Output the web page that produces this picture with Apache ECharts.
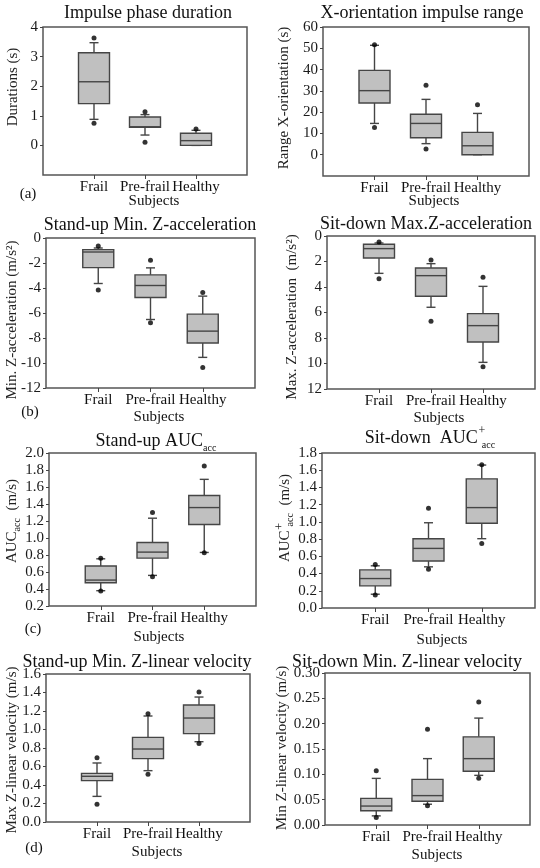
<!DOCTYPE html>
<html>
<head>
<meta charset="utf-8">
<script src="https://cdn.jsdelivr.net/npm/echarts@6/dist/echarts.min.js"></script>
<style>html,body{margin:0;padding:0;background:#fff;}#chart{width:540px;height:868px;}</style>
</head>
<body>
<div id="chart"></div>
<script>
const categories = ['Frail', 'Pre-frail', 'Healthy'];

// box stats per category: [lower whisker, Q1, median, Q3, upper whisker]
const durationBox = [[0.88, 1.41, 2.15, 3.13, 3.47], [0.35, 0.61, 0.63, 0.96, 1.04], [0.00, 0.00, 0.16, 0.41, 0.51]];
const durationOut = [[3.63, 0.75], [1.14, 0.11], [0.55]];

const rangeBox = [[14.7, 24.3, 30.1, 39.6, 51.4], [5.2, 8.0, 14.7, 19.0, 26.0], [0, 0, 4.2, 10.5, 19.4]];
const rangeOut = [[51.7, 12.8], [32.6, 2.7], [23.5]];

const standMinAccBox = [[-3.64, -2.37, -1.12, -0.93, -0.8], [-6.52, -4.76, -3.80, -2.95, -2.39], [-9.55, -8.40, -7.45, -6.09, -4.65]];
const standMinAccOut = [[-0.64, -4.15], [-1.78, -6.78], [-4.36, -10.35]];

const sitMaxAccBox = [[0.55, 0.65, 0.99, 1.73, 2.93], [2.17, 2.51, 3.11, 4.73, 5.59], [3.95, 6.09, 7.03, 8.31, 9.91]];
const sitMaxAccOut = [[0.47, 3.35], [1.88, 6.69], [3.24, 10.25]];

const standAucBox = [[0.38, 0.474, 0.505, 0.67, 0.755], [0.56, 0.763, 0.834, 0.947, 1.233], [0.83, 1.158, 1.358, 1.50, 1.69]];
const standAucOut = [[0.763, 0.376], [1.30, 0.544], [1.847, 0.826]];

const sitAucBox = [[0.16, 0.257, 0.342, 0.443, 0.49], [0.478, 0.545, 0.692, 0.805, 0.99], [0.805, 0.984, 1.166, 1.50, 1.66]];
const sitAucOut = [[0.505, 0.152], [1.159, 0.451], [1.665, 0.75]];

const standVelBox = [[0.277, 0.447, 0.494, 0.526, 0.638], [0.555, 0.685, 0.789, 0.915, 1.146], [0.868, 0.955, 1.124, 1.265, 1.351]];
const standVelOut = [[0.695, 0.191], [1.171, 0.515], [1.405, 0.85]];

const sitVelBox = [[0.018, 0.0282, 0.0374, 0.0525, 0.092], [0.041, 0.047, 0.058, 0.090, 0.131], [0.098, 0.106, 0.131, 0.174, 0.211]];
const sitVelOut = [[0.107, 0.015], [0.189, 0.038], [0.243, 0.0925]];

// y axis ranges [min, max, interval]
const yRanges = [[-1, 4, 1], [-10, 60, 10], [-12, 0, 2], [0, 12, 2], [0.2, 2.0, 0.2], [0, 1.8, 0.2], [0, 1.6, 0.2], [0, 0.30, 0.05]];
const yDecimals = [0, 0, 0, 0, 1, 1, 1, 2];

const titles = ['Impulse phase duration', 'X-orientation impulse range', 'Stand-up Min. Z-acceleration', 'Sit-down Max.Z-acceleration',
  'Stand-up AUC{sub|acc}', 'Sit-down  AUC{sup|+}{sub|acc}', 'Stand-up Min. Z-linear velocity', 'Sit-down Min. Z-linear velocity'];
const yNames = ['Durations (s)', 'Range X-orientation (s)', 'Min. Z-acceleration (m/s²)', 'Max. Z-acceleration  (m/s²)',
  'AUC{sub|acc}  (m/s)', 'AUC{sup|+}{sub|acc}  (m/s)', 'Max Z-linear velocity (m/s)', 'Min Z-linear velocity (m/s)'];
const panelLabels = ['(a)', '(b)', '(c)', '(d)'];
const xName = 'Subjects';

const boxes = [durationBox, rangeBox, standMinAccBox, sitMaxAccBox, standAucBox, sitAucBox, standVelBox, sitVelBox];
const outliers = [durationOut, rangeOut, standMinAccOut, sitMaxAccOut, standAucOut, sitAucOut, standVelOut, sitVelOut];

// layout
const grids = [
  {left: 43, top: 27, width: 204, height: 148},
  {left: 323, top: 27, width: 206, height: 149},
  {left: 46, top: 238, width: 209, height: 150},
  {left: 327, top: 236, width: 208, height: 153},
  {left: 49, top: 453, width: 207, height: 153},
  {left: 322, top: 453, width: 213, height: 155},
  {left: 46, top: 674, width: 204, height: 148},
  {left: 325, top: 673, width: 205, height: 152}
];
const titlePos = [[148, 13], [422, 13], [150, 225], [426, 224], [156, 441], [430, 438], [137, 662], [407, 662]];
const yNamePos = [[13, 87], [284, 98], [12, 320], [292, 317], [12, 521], [285, 518], [12, 750], [282, 748]];
const xNamePos = [[154, 201], [434, 201], [159, 417], [439, 418], [159, 637], [442, 640], [157, 852], [437, 855]];
const labelPos = [[28, 194], [30, 412], [33, 629], [34, 848]];

const FONT = '"Liberation Serif", "Times New Roman", serif';
const INK = '#454545';
const richSub = {
  sub: {fontSize: 10, fontFamily: FONT, verticalAlign: 'bottom', lineHeight: 10, padding: [0, 0, -3, 0]},
  sup: {fontSize: 12, fontFamily: FONT, verticalAlign: 'top', lineHeight: 10, width: 0, padding: [-4, 0, 0, 4]}
};

function renderBox(params, api) {
  const x = api.value(0);
  const ys = [1, 2, 3, 4, 5].map(i => api.coord([x, api.value(i)])[1]);
  const cx = api.coord([x, api.value(1)])[0];
  const half = 15.5, cap = 4.5;
  const top = Math.min(ys[1], ys[3]), bot = Math.max(ys[1], ys[3]);
  const ls = {stroke: INK, lineWidth: 1.4};
  return {type: 'group', children: [
    {type: 'line', shape: {x1: cx, y1: ys[0], x2: cx, y2: ys[1]}, style: ls},
    {type: 'line', shape: {x1: cx, y1: ys[3], x2: cx, y2: ys[4]}, style: ls},
    {type: 'line', shape: {x1: cx - cap, y1: ys[0], x2: cx + cap, y2: ys[0]}, style: ls},
    {type: 'line', shape: {x1: cx - cap, y1: ys[4], x2: cx + cap, y2: ys[4]}, style: ls},
    {type: 'rect', shape: {x: cx - half, y: top, width: 2 * half, height: bot - top}, style: {fill: '#c0c0c0', stroke: INK, lineWidth: 1.4}},
    {type: 'line', shape: {x1: cx - half, y1: ys[2], x2: cx + half, y2: ys[2]}, style: ls}
  ]};
}

const xData = [''].concat(categories, ['']);
const option = {
  animation: false,
  backgroundColor: '#fff',
  grid: grids.map(g => Object.assign({show: true, borderColor: '#555', borderWidth: 1.5, backgroundColor: 'transparent'}, g)),
  xAxis: grids.map((g, i) => ({
    type: 'category', gridIndex: i, data: xData, boundaryGap: false, position: 'bottom',
    axisLine: {show: false, onZero: false},
    axisTick: {show: true, length: 4, interval: (idx, v) => v !== '', lineStyle: {color: '#444'}},
    axisLabel: {interval: 0, margin: 5, fontSize: 15, fontFamily: FONT, color: '#111'},
    splitLine: {show: false}
  })),
  yAxis: grids.map((g, i) => ({
    type: 'value', gridIndex: i, min: yRanges[i][0], max: yRanges[i][1], interval: yRanges[i][2],
    inverse: i === 3,
    axisLine: {show: false, onZero: false},
    axisTick: {show: true, length: 3, lineStyle: {color: '#444'}},
    axisLabel: {margin: 5, fontSize: 15, fontFamily: FONT, color: '#1a1a1a', showMinLabel: i > 1,
      formatter: v => Number(v).toFixed(yDecimals[i])},
    splitLine: {show: false}
  })),
  series: [],
  graphic: []
};

boxes.forEach((b, i) => {
  option.series.push({
    type: 'custom', xAxisIndex: i, yAxisIndex: i, renderItem: renderBox,
    encode: {x: 0, y: [1, 2, 3, 4, 5]},
    data: b.map((s, k) => [k + 1].concat(s)), z: 2
  });
  const pts = [];
  outliers[i].forEach((vals, k) => vals.forEach(v => pts.push([k + 1, v])));
  option.series.push({
    type: 'scatter', xAxisIndex: i, yAxisIndex: i, symbolSize: 5,
    itemStyle: {color: '#000'}, data: pts, z: 3
  });
  option.graphic.push({
    type: 'text', x: titlePos[i][0], y: titlePos[i][1],
    style: {text: titles[i], fontSize: 18, fontFamily: FONT, fill: '#111', textAlign: 'center', textVerticalAlign: 'middle', rich: richSub}
  });
  option.graphic.push({
    type: 'text', x: yNamePos[i][0], y: yNamePos[i][1], rotation: Math.PI / 2,
    style: {text: yNames[i], fontSize: 15, fontFamily: FONT, fill: '#222', textAlign: 'center', textVerticalAlign: 'middle', rich: richSub}
  });
  option.graphic.push({
    type: 'text', x: xNamePos[i][0], y: xNamePos[i][1],
    style: {text: xName, fontSize: 15, fontFamily: FONT, fill: '#111', textAlign: 'center', textVerticalAlign: 'middle'}
  });
});
panelLabels.forEach((t, i) => {
  option.graphic.push({
    type: 'text', x: labelPos[i][0], y: labelPos[i][1],
    style: {text: t, fontSize: 15, fontFamily: FONT, fill: '#111', textAlign: 'center', textVerticalAlign: 'middle'}
  });
});

const chart = echarts.init(document.getElementById('chart'), null, {renderer: 'canvas'});
chart.setOption(option);
</script>
</body>
</html>
